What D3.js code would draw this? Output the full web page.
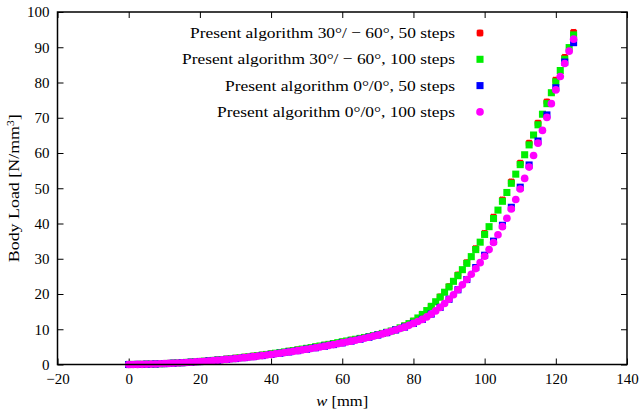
<!DOCTYPE html>
<html>
<head>
<meta charset="utf-8">
<script src="https://cdn.jsdelivr.net/npm/d3@7"></script>
<style>
  body { margin: 0; background: #fff; }
  svg text { font-family: "Liberation Serif", "DejaVu Serif", serif; fill: #000; }
</style>
</head>
<body>
<div id="chart"></div>
<script>
// w [mm] for the 100-step and 50-step runs
const w100 = [0, 1.25, 2.5, 3.75, 5, 6.25, 7.5, 8.75, 10, 11.25, 12.5, 13.75, 15, 16.25, 17.5, 18.75,
  20, 21.25, 22.5, 23.75, 25, 26.25, 27.5, 28.75, 30, 31.25, 32.5, 33.75, 35, 36.25, 37.5, 38.75,
  40, 41.25, 42.5, 43.75, 45, 46.25, 47.5, 48.75, 50, 51.25, 52.5, 53.75, 55, 56.25, 57.5, 58.75,
  60, 61.25, 62.5, 63.75, 65, 66.25, 67.5, 68.75, 70, 71.25, 72.5, 73.75, 75, 76.25, 77.5, 78.75,
  80, 81.25, 82.5, 83.75, 85, 86.25, 87.5, 88.75, 90, 91.25, 92.5, 93.75, 95, 96.25, 97.5, 98.75,
  100, 101.25, 102.5, 103.75, 105, 106.25, 107.5, 108.75, 110, 111.25, 112.5, 113.75, 115, 116.25,
  117.5, 118.75, 120, 121.25, 122.5, 123.75, 125];
const w50 = [0, 2.5, 5, 7.5, 10, 12.5, 15, 17.5, 20, 22.5, 25, 27.5, 30, 32.5, 35, 37.5, 40, 42.5,
  45, 47.5, 50, 52.5, 55, 57.5, 60, 62.5, 65, 67.5, 70, 72.5, 75, 77.5, 80, 82.5, 85, 87.5, 90,
  92.5, 95, 97.5, 100, 102.5, 105, 107.5, 110, 112.5, 115, 117.5, 120, 122.5, 125];

// body load [N/mm^3]
const load3060_50 = [0, 0.03, 0.08, 0.16, 0.26, 0.38, 0.52, 0.68, 0.86, 1.06, 1.28, 1.52, 1.78, 2.06,
  2.36, 2.68, 3.02, 3.38, 3.76, 4.16, 4.58, 5.02, 5.48, 5.95, 6.43, 6.91, 7.4, 7.93, 8.5, 9.14, 9.9,
  10.95, 12.3, 14.2, 16.5, 19.2, 22.1, 25.4, 28.9, 32.9, 37.2, 41.8, 46.7, 51.8, 57.1, 62.8, 68.5,
  74.5, 80.7, 87.1, 94.2];
const load3060_100 = [0, 0.01, 0.03, 0.05, 0.08, 0.12, 0.16, 0.21, 0.26, 0.32, 0.38, 0.45, 0.52, 0.6,
  0.68, 0.77, 0.86, 0.96, 1.06, 1.17, 1.28, 1.4, 1.52, 1.65, 1.78, 1.92, 2.06, 2.21, 2.36, 2.52, 2.68,
  2.85, 3.02, 3.2, 3.38, 3.57, 3.76, 3.96, 4.16, 4.37, 4.58, 4.8, 5.02, 5.25, 5.48, 5.71, 5.95, 6.19,
  6.43, 6.67, 6.91, 7.15, 7.4, 7.66, 7.93, 8.21, 8.5, 8.81, 9.14, 9.5, 9.9, 10.4, 10.95, 11.6,
  12.3, 13.2, 14.2, 15.3, 16.5, 17.8, 19.1, 20.5, 22.0, 23.6, 25.2, 26.9, 28.7, 30.6, 32.6, 34.7,
  36.9, 39.1, 41.4, 43.8, 46.3, 48.8, 51.4, 54.0, 56.7, 59.5, 62.3, 65.1, 68.0, 71.0, 74.0, 77.1,
  80.2, 83.4, 86.6, 89.9, 93.5];
const load00_50 = [0, 0.03, 0.08, 0.15, 0.25, 0.36, 0.5, 0.65, 0.82, 1.0, 1.21, 1.44, 1.68, 1.95, 2.23,
  2.53, 2.85, 3.19, 3.55, 3.93, 4.33, 4.75, 5.19, 5.65, 6.13, 6.63, 7.16, 7.73, 8.35, 9.03, 9.8,
  10.6, 11.65, 12.8, 14.3, 16.2, 18.5, 21.2, 24.1, 27.5, 31.0, 35.0, 39.5, 44.6, 50.3, 56.6, 63.4,
  70.8, 78.5, 85.8, 91.3];
const load00_100 = [0, 0.01, 0.03, 0.05, 0.08, 0.11, 0.15, 0.2, 0.25, 0.3, 0.36, 0.43, 0.5, 0.57,
  0.65, 0.73, 0.82, 0.91, 1.0, 1.1, 1.21, 1.32, 1.44, 1.56, 1.68, 1.81, 1.95, 2.09, 2.23, 2.38, 2.53,
  2.69, 2.85, 3.02, 3.19, 3.37, 3.55, 3.74, 3.93, 4.13, 4.33, 4.54, 4.75, 4.97, 5.19, 5.42, 5.65,
  5.89, 6.13, 6.38, 6.63, 6.89, 7.16, 7.44, 7.73, 8.03, 8.35, 8.68, 9.03, 9.4, 9.8, 10.2, 10.6,
  11.1, 11.65, 12.2, 12.8, 13.5, 14.3, 15.2, 16.2, 17.3, 18.5, 19.8, 21.2, 22.6, 24.1, 25.6, 27.2,
  28.9, 30.7, 32.6, 34.6, 36.8, 39.1, 41.5, 44.1, 46.8, 49.8, 52.8, 56.0, 59.3, 62.8, 66.4, 70.1,
  74.0, 77.9, 81.7, 85.4, 88.9, 92.3];

const seriesNames = [
  "Present algorithm 30°/ − 60°, 50 steps",
  "Present algorithm 30°/ − 60°, 100 steps",
  "Present algorithm 0°/0°, 50 steps",
  "Present algorithm 0°/0°, 100 steps"
];
const xTicks = [-20, 0, 20, 40, 60, 80, 100, 120, 140];
const yTicks = [0, 10, 20, 30, 40, 50, 60, 70, 80, 90, 100];

const series = [
  { name: seriesNames[0], w: w50, load: load3060_50, color: "#ff0000", shape: "cross", textW: 265 },
  { name: seriesNames[1], w: w100, load: load3060_100, color: "#00ee00", shape: "square", textW: 273 },
  { name: seriesNames[2], w: w50, load: load00_50, color: "#0000ff", shape: "square", textW: 230 },
  { name: seriesNames[3], w: w100, load: load00_100, color: "#ff00ff", shape: "circle", textW: 238 }
];

const width = 642, height = 414;
const margin = { top: 12, right: 15, bottom: 50, left: 57.5 };
const innerW = 627 - margin.left;
const innerH = 364.5 - margin.top;

const svg = d3.select("#chart").append("svg")
  .attr("width", width)
  .attr("height", height);

const g = svg.append("g")
  .attr("transform", `translate(${margin.left},${margin.top})`);

const x = d3.scaleLinear().domain([-20, 140]).range([0, innerW]);
const y = d3.scaleLinear().domain([0, 100]).range([innerH, 0]);

// axes with inward ticks, mirrored on top and right
const tickLen = 6;
g.append("g").attr("transform", `translate(0,${innerH})`)
  .call(d3.axisBottom(x).tickValues(xTicks).tickSizeInner(-tickLen).tickSizeOuter(0).tickPadding(9).tickFormat(d3.format("d")))
  .call(a => a.select(".domain").remove());
g.append("g")
  .call(d3.axisTop(x).tickValues(xTicks).tickSizeInner(-tickLen).tickSizeOuter(0).tickFormat(""))
  .call(a => a.select(".domain").remove());
g.append("g")
  .call(d3.axisLeft(y).tickValues(yTicks).tickSizeInner(-tickLen).tickSizeOuter(0).tickPadding(8))
  .call(a => a.select(".domain").remove());
g.append("g").attr("transform", `translate(${innerW},0)`)
  .call(d3.axisRight(y).tickValues(yTicks).tickSizeInner(-tickLen).tickSizeOuter(0).tickFormat(""))
  .call(a => a.select(".domain").remove());

g.selectAll(".tick text")
  .style("font-family", "'Liberation Serif', serif")
  .style("font-size", "15px")
  .attr("fill", "#000");
g.selectAll(".tick line").attr("stroke", "#000").attr("stroke-width", 1);

// marker drawing
function drawMarker(sel, shape, color) {
  if (shape === "cross") {
    sel.append("path")
      .attr("d", "M-2.8,-2.8L2.8,2.8M-2.8,2.8L2.8,-2.8M-3.4,0L3.4,0M0,-3.4L0,3.4")
      .attr("stroke", color)
      .attr("stroke-width", 2.4)
      .attr("fill", "none");
  } else if (shape === "square") {
    sel.append("path")
      .attr("d", d3.symbol().type(d3.symbolSquare).size(50)())
      .attr("fill", color);
  } else {
    sel.append("path")
      .attr("d", d3.symbol().type(d3.symbolCircle).size(46)())
      .attr("fill", color);
  }
}

const plot = g.append("g");
series.forEach(s => {
  const pts = s.w.map((wv, i) => ({ w: wv, load: s.load[i] }));
  plot.append("g").selectAll("g")
    .data(pts)
    .enter().append("g")
    .attr("transform", d => `translate(${x(d.w)},${y(d.load)})`)
    .each(function () { drawMarker(d3.select(this), s.shape, s.color); });
});

// frame
g.append("rect")
  .attr("width", innerW)
  .attr("height", innerH)
  .attr("fill", "none")
  .attr("stroke", "#000")
  .attr("stroke-width", 1.5);

// legend
const legend = svg.append("g");
series.forEach((s, i) => {
  const ly = 33 + i * 26.3;
  legend.append("text")
    .attr("x", 455)
    .attr("y", ly + 5)
    .attr("text-anchor", "end")
    .attr("textLength", s.textW)
    .attr("lengthAdjust", "spacingAndGlyphs")
    .style("font-size", "15.5px")
    .text(s.name);
  const m = legend.append("g").attr("transform", `translate(480,${ly})`);
  drawMarker(m, s.shape, s.color);
});

// axis titles
svg.append("text")
  .attr("x", margin.left + innerW / 2)
  .attr("y", 406)
  .attr("text-anchor", "middle")
  .attr("textLength", 52)
  .attr("lengthAdjust", "spacingAndGlyphs")
  .style("font-size", "15.5px")
  .html('<tspan font-style="italic">w</tspan> [mm]');

svg.append("text")
  .attr("transform", `translate(19,${margin.top + innerH / 2}) rotate(-90)`)
  .attr("text-anchor", "middle")
  .attr("textLength", 148)
  .attr("lengthAdjust", "spacingAndGlyphs")
  .style("font-size", "15.5px")
  .html('Body Load [N/mm<tspan baseline-shift="super" font-size="10px">3</tspan>]');
</script>
</body>
</html>
